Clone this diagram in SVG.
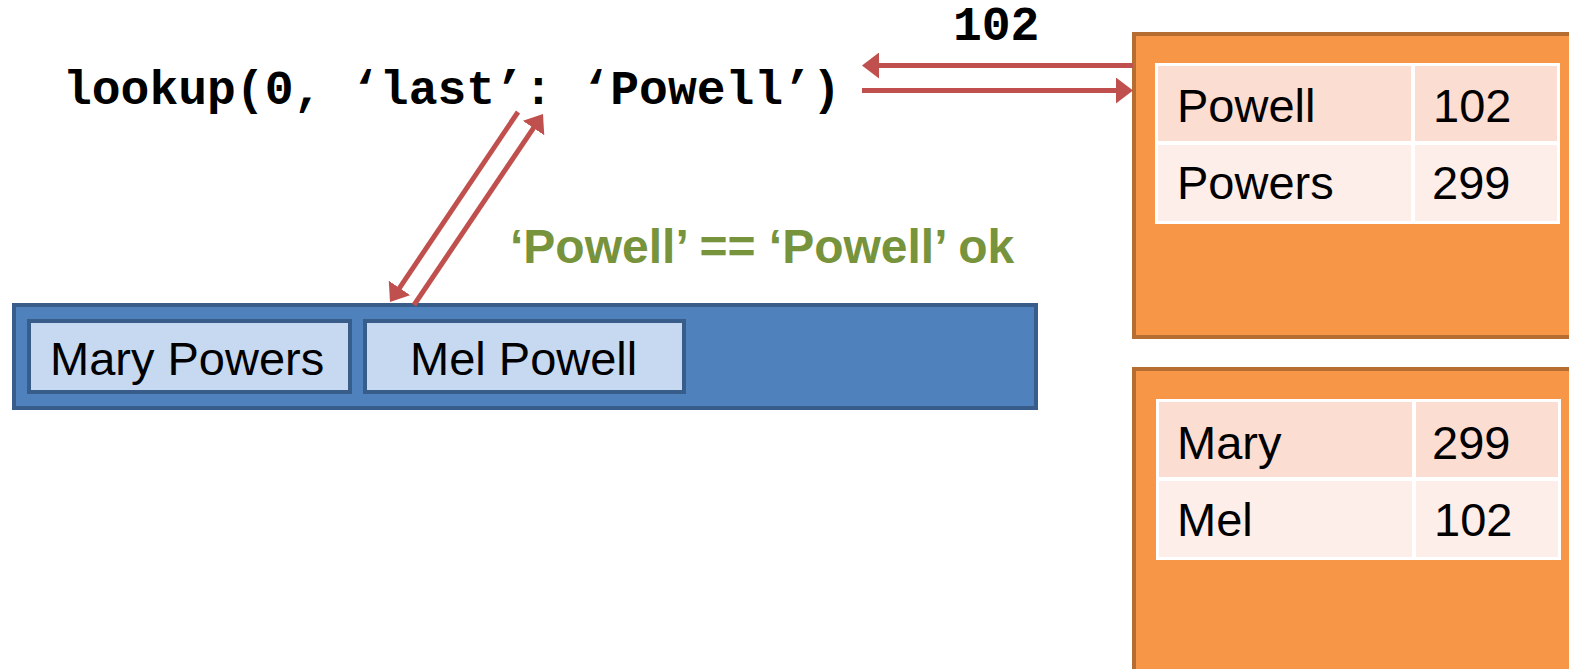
<svg xmlns="http://www.w3.org/2000/svg" width="1569" height="669" viewBox="0 0 1569 669">
<defs>
<style>
.mono{font-family:"Liberation Mono","Courier New",monospace;font-weight:bold;font-size:48px;fill:#000}
.sans{font-family:"Liberation Sans",Arial,sans-serif;font-size:47px;fill:#000}
.green{font-family:"Liberation Sans",Arial,sans-serif;font-weight:bold;font-size:48px;fill:#77933C}
.conn{stroke:#C0504D;stroke-width:5;fill:none;marker-end:url(#ah)}
.store{fill:#F79646;stroke:#B66D31;stroke-width:4}
.bar{fill:#4F81BD;stroke:#385D8A;stroke-width:4}
.cell{fill:#C6D9F1;stroke:#385D8A;stroke-width:4}
.r1{fill:#FCDDD1}
.r2{fill:#FDEEE9}
</style>
<marker id="ah" markerUnits="userSpaceOnUse" markerWidth="18" markerHeight="26" refX="2" refY="13" orient="auto" viewBox="0 0 18 26">
<path d="M0,0 L17,13 L0,26 z" fill="#C0504D"/>
</marker>
</defs>
<rect width="1569" height="669" fill="#fff"/>

<g id="query">
<text class="mono" x="63" y="104">lookup(0, ‘last’: ‘Powell’)</text>
</g>
<g id="result">
<text class="mono" x="953" y="40">102</text>
</g>
<g id="compare-label">
<text class="green" x="510" y="263">‘Powell’ == ‘Powell’ ok</text>
</g>

<g id="index-bar">
<rect class="bar" x="14" y="305" width="1022" height="103"/>
</g>
<g id="cell-mary-powers">
<rect class="cell" x="29" y="321" width="321" height="71"/>
<text class="sans" x="50" y="375">Mary Powers</text>
</g>
<g id="cell-mel-powell">
<rect class="cell" x="365" y="321" width="319" height="71"/>
<text class="sans" x="410" y="375">Mel Powell</text>
</g>

<g id="store-last">
<rect class="store" x="1134" y="34" width="500" height="303"/>
<rect x="1155" y="63" width="405" height="161" fill="#fff"/>
<rect class="r1" x="1158" y="66" width="253" height="75"/>
<rect class="r1" x="1415" y="66" width="142" height="75"/>
<rect class="r2" x="1158" y="145" width="253" height="76"/>
<rect class="r2" x="1415" y="145" width="142" height="76"/>
<text class="sans" x="1177" y="122">Powell</text>
<text class="sans" x="1433" y="122">102</text>
<text class="sans" x="1177" y="199">Powers</text>
<text class="sans" x="1432" y="199">299</text>
</g>

<g id="store-first">
<rect class="store" x="1134" y="369" width="500" height="400"/>
<rect x="1156" y="399" width="405" height="161" fill="#fff"/>
<rect class="r1" x="1159" y="402" width="253" height="75"/>
<rect class="r1" x="1416" y="402" width="142" height="75"/>
<rect class="r2" x="1159" y="481" width="253" height="76"/>
<rect class="r2" x="1416" y="481" width="142" height="76"/>
<text class="sans" x="1177" y="459">Mary</text>
<text class="sans" x="1432" y="459">299</text>
<text class="sans" x="1177" y="536">Mel</text>
<text class="sans" x="1434" y="536">102</text>
</g>

<g id="connectors">
<line class="conn" x1="518" y1="112" x2="398.4" y2="289.6"/>
<line class="conn" x1="414" y1="305" x2="534.6" y2="126.4"/>
<line class="conn" x1="1133" y1="65.5" x2="877" y2="65.5"/>
<line class="conn" x1="862" y1="90.5" x2="1118" y2="90.5"/>
</g>
</svg>
